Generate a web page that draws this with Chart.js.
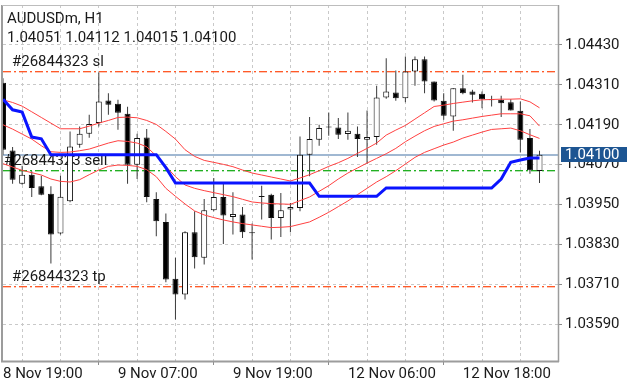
<!DOCTYPE html>
<html><head><meta charset="utf-8">
<script src="https://cdn.jsdelivr.net/npm/chart.js@4/dist/chart.umd.min.js"></script>
<style>html,body{margin:0;padding:0;background:#fff}canvas{display:block}</style>
</head><body>
<canvas id="c" width="640" height="384"></canvas>
<script>
// ---- data (AUDUSDm, H1) ----
const openP  = [1.04316,1.04113,1.04013,1.04040,1.04005,1.03983,1.03863,1.03960,1.04130,1.04163,1.04195,1.04263,1.04253,1.04223,1.04070,1.04152,1.03967,1.03898,1.03727,1.03680,1.03867,1.03790,1.03933,1.03973,1.03913,1.03920,1.03866,1.03973,1.03980,1.03910,1.03935,1.03940,1.04100,1.04145,1.04182,1.04182,1.04162,1.04163,1.04145,1.04153,1.04272,1.04287,1.04270,1.04350,1.04387,1.04320,1.04262,1.04215,1.04300,1.04290,1.04283,1.04265,1.04265,1.04258,1.04232,1.04150,1.04051];
const highP  = [1.04330,1.04123,1.04067,1.04050,1.04037,1.04005,1.04037,1.04170,1.04185,1.04220,1.04347,1.04285,1.04265,1.04244,1.04163,1.04177,1.03987,1.03923,1.03790,1.03870,1.03930,1.03967,1.04030,1.04017,1.03987,1.03943,1.03893,1.04007,1.03983,1.03985,1.03955,1.04155,1.04213,1.04190,1.04227,1.04210,1.04227,1.04185,1.04233,1.04307,1.04390,1.04353,1.04395,1.04395,1.04395,1.04320,1.04285,1.04300,1.04340,1.04295,1.04290,1.04277,1.04277,1.04267,1.04260,1.04177,1.04112];
const lowP   = [1.04100,1.04013,1.04010,1.03973,1.03978,1.03773,1.03860,1.03957,1.04121,1.04151,1.04185,1.04220,1.04175,1.04013,1.04027,1.03957,1.03855,1.03717,1.03605,1.03665,1.03758,1.03770,1.03930,1.03832,1.03860,1.03850,1.03785,1.03905,1.03845,1.03853,1.03867,1.03930,1.04035,1.04127,1.04157,1.04147,1.04145,1.04093,1.04073,1.04130,1.04268,1.04262,1.04258,1.04307,1.04285,1.04260,1.04205,1.04172,1.04282,1.04257,1.04240,1.04245,1.04213,1.04233,1.04107,1.04043,1.04015];
const closeP = [1.04115,1.04025,1.04040,1.04000,1.03980,1.03860,1.03974,1.04125,1.04163,1.04192,1.04260,1.04250,1.04226,1.04070,1.04150,1.03973,1.03900,1.03725,1.03680,1.03867,1.03792,1.03933,1.03973,1.03917,1.03922,1.03867,1.03864,1.03974,1.03910,1.03933,1.03943,1.04100,1.04147,1.04180,1.04183,1.04160,1.04172,1.04147,1.04153,1.04272,1.04290,1.04270,1.04350,1.04387,1.04320,1.04263,1.04217,1.04300,1.04285,1.04280,1.04267,1.04264,1.04255,1.04233,1.04145,1.04053,1.04100];

const bandUpper  = [1.04265,1.04257,1.04246,1.04229,1.04212,1.04195,1.04178,1.04178,1.04178,1.04186,1.04195,1.04203,1.04212,1.04213,1.04211,1.04203,1.04191,1.04170,1.04147,1.04115,1.04095,1.04083,1.04077,1.04071,1.04064,1.04054,1.04045,1.04039,1.04033,1.04027,1.04021,1.04030,1.04040,1.04052,1.04065,1.04076,1.04089,1.04104,1.04119,1.04135,1.04159,1.04174,1.04188,1.04207,1.04226,1.04245,1.04249,1.04254,1.04258,1.04262,1.04265,1.04266,1.04267,1.04267,1.04268,1.04259,1.04241];
const bandMiddle = [1.04190,1.04177,1.04162,1.04147,1.04127,1.04109,1.04107,1.04108,1.04112,1.04117,1.04126,1.04135,1.04142,1.04140,1.04135,1.04124,1.04096,1.04065,1.04034,1.04009,1.03999,1.03992,1.03986,1.03980,1.03974,1.03966,1.03958,1.03955,1.03953,1.03952,1.03951,1.03962,1.03973,1.03990,1.04007,1.04027,1.04045,1.04060,1.04075,1.04089,1.04103,1.04119,1.04139,1.04156,1.04172,1.04185,1.04193,1.04201,1.04205,1.04210,1.04215,1.04219,1.04223,1.04223,1.04223,1.04217,1.04186];
const bandLower  = [1.04073,1.04063,1.04053,1.04046,1.04039,1.04027,1.04020,1.04018,1.04025,1.04040,1.04054,1.04065,1.04069,1.04068,1.04065,1.04055,1.04034,1.03999,1.03975,1.03952,1.03931,1.03919,1.03911,1.03904,1.03898,1.03893,1.03889,1.03885,1.03881,1.03882,1.03884,1.03891,1.03898,1.03912,1.03927,1.03944,1.03961,1.03980,1.03999,1.04018,1.04034,1.04052,1.04072,1.04092,1.04107,1.04118,1.04129,1.04138,1.04150,1.04159,1.04168,1.04176,1.04178,1.04180,1.04172,1.04160,1.04149];
const blueStop   = [1.04267,1.04235,1.04228,1.04153,1.04148,1.04100,1.04100,1.04100,1.04100,1.04100,1.04100,1.04100,1.04100,1.04100,1.04100,1.04100,1.04100,1.04061,1.04015,1.04015,1.04015,1.04015,1.04015,1.04015,1.04015,1.04015,1.04015,1.04015,1.04015,1.04015,1.04015,1.04015,1.04015,1.03975,1.03975,1.03975,1.03975,1.03975,1.03975,1.03975,1.04000,1.04000,1.04000,1.04000,1.04000,1.04000,1.04000,1.04000,1.04000,1.04000,1.04000,1.04000,1.04027,1.04077,1.04084,1.04090,1.04090];

const gridIdx   = [0,4,8,12,16,20,24,28,32,36,40,44,48,52,56];
const tickIndex = [0,12,24,36,48];
const tickText  = ['8 Nov 19:00','9 Nov 07:00','9 Nov 19:00','12 Nov 06:00','12 Nov 18:00'];
const yTicks    = [1.03590,1.03710,1.03830,1.03950,1.04070,1.04190,1.04310,1.04430];

const bidPrice  = 1.04100;
const slPrice   = 1.04352;
const sellPrice = 1.04055;
const tpPrice   = 1.03706;
const orderId   = '#26844323';
const symbolTxt = 'AUDUSDm, H1';
const ohlcTxt   = '1.04051 1.04112 1.04015 1.04100';

const idx = closeP.map((_, i) => i);
const FONT = 'Roboto';

// dash-dot level line drawn as small filled rectangles (1px core + soft row)
function dashDot(ctx, a, yPix, color) {
  const py = Math.round(yPix);
  ctx.save();
  ctx.fillStyle = color;
  const pattern = [[0, 8], [11, 2]];
  for (let x0 = a.left; x0 < a.right; x0 += 16) {
    for (const [off, len] of pattern) {
      const xs = Math.round(x0 + off);
      const xe = Math.round(Math.min(x0 + off + len, a.right));
      if (xe > xs) {
        ctx.globalAlpha = 1;
        ctx.fillRect(xs, py, xe - xs, 1);
        ctx.globalAlpha = 0.35;
        ctx.fillRect(xs, py + 1, xe - xs, 1);
      }
    }
  }
  ctx.restore();
}

const overlay = {
  id: 'mtOverlay',
  beforeDatasetsDraw(chart) {
    const { ctx, chartArea: a, scales: { y } } = chart;
    ctx.save();
    ctx.fillStyle = 'rgb(160,184,210)';
    ctx.fillRect(a.left, Math.round(y.getPixelForValue(bidPrice)) - 1, a.right - a.left, 2);
    dashDot(ctx, a, y.getPixelForValue(slPrice), '#ff5a28');
    dashDot(ctx, a, y.getPixelForValue(tpPrice), '#ff5a28');
    dashDot(ctx, a, y.getPixelForValue(sellPrice), '#22b022');
    ctx.fillStyle = '#1a1a1a';
    ctx.font = '15px ' + FONT;
    ctx.textBaseline = 'alphabetic';
    ctx.textAlign = 'left';
    ctx.fillText(orderId + ' sl', 12, y.getPixelForValue(slPrice) - 4.5);
    ctx.fillText(orderId + ' sell', 4, y.getPixelForValue(sellPrice) - 4.5);
    ctx.fillText(orderId + ' tp', 12, y.getPixelForValue(tpPrice) - 4.5);
    ctx.restore();
  },
  afterDatasetsDraw(chart) {
    const { ctx, chartArea: a } = chart;
    ctx.save();
    ctx.setLineDash([]);
    ctx.strokeStyle = '#9c9c9c';
    ctx.lineWidth = 2;
    ctx.beginPath();
    ctx.moveTo(2, a.top); ctx.lineTo(2, a.bottom + 1);
    ctx.moveTo(1, a.bottom + 0.5); ctx.lineTo(a.right + 1, a.bottom + 0.5);
    ctx.stroke();
    ctx.lineWidth = 1.5;
    ctx.beginPath();
    ctx.moveTo(a.right + 0.5, a.top); ctx.lineTo(a.right + 0.5, a.bottom + 1);
    ctx.stroke();
    ctx.lineWidth = 1;
    ctx.strokeStyle = '#bdbdbd';
    ctx.beginPath();
    ctx.moveTo(2, a.top + 0.5); ctx.lineTo(a.right, a.top + 0.5);
    ctx.stroke();
    ctx.restore();
  },
  afterDraw(chart) {
    const { ctx, chartArea: a, scales: { y } } = chart;
    ctx.save();
    ctx.fillStyle = '#1a1a1a';
    ctx.textBaseline = 'alphabetic';
    ctx.textAlign = 'left';
    ctx.font = '15px ' + FONT;
    ctx.fillText(symbolTxt, 7, 23);
    ctx.fillText(ohlcTxt, 7, 42);
    const py = y.getPixelForValue(bidPrice);
    ctx.fillStyle = '#1d5592';
    ctx.fillRect(a.right + 3, Math.round(py - 7.5), 66, 15);
    ctx.fillStyle = '#ffffff';
    ctx.textBaseline = 'middle';
    ctx.fillText(bidPrice.toFixed(5), a.right + 7, py + 0.5);
    ctx.restore();
  }
};

new Chart(document.getElementById('c'), {
  type: 'bar',
  data: {
    datasets: [
      { type: 'line', data: idx.map(i => ({ x: i, y: blueStop[i] })), borderColor: '#0a14ff', borderWidth: 3, pointRadius: 0, tension: 0, order: 0 },
      { type: 'line', data: idx.map(i => ({ x: i, y: bandUpper[i] })), borderColor: '#ff4040', borderWidth: 1, pointRadius: 0, tension: 0, order: 1 },
      { type: 'line', data: idx.map(i => ({ x: i, y: bandMiddle[i] })), borderColor: '#ff4040', borderWidth: 1, pointRadius: 0, tension: 0, order: 1 },
      { type: 'line', data: idx.map(i => ({ x: i, y: bandLower[i] })), borderColor: '#ff4040', borderWidth: 1, pointRadius: 0, tension: 0, order: 1 },
      { type: 'bar', data: idx.map(i => ({ x: i, y: [Math.min(openP[i], closeP[i]), Math.max(openP[i], closeP[i])] })),
        backgroundColor: idx.map(i => closeP[i] > openP[i] ? '#ffffff' : '#000000'),
        borderColor: '#111111', borderWidth: 1, borderSkipped: false, barThickness: 6, minBarLength: 1, grouped: false, inflateAmount: 0, order: 2 },
      { type: 'bar', data: idx.map(i => ({ x: i, y: [lowP[i], highP[i]] })),
        backgroundColor: '#3a3a3a', barThickness: 1, grouped: false, inflateAmount: 0, order: 3 }
    ]
  },
  options: {
    responsive: false, animation: false, devicePixelRatio: 1,
    layout: { padding: { left: 3, top: 5, right: 0, bottom: 0 } },
    plugins: { legend: { display: false }, tooltip: { enabled: false } },
    scales: {
      x: {
        type: 'linear', min: 0, max: 57.93, offset: false,
        afterBuildTicks: s => { s.ticks = gridIdx.map(v => ({ value: v })); },
        afterFit: s => { s.height = 23; s.paddingLeft = 0; s.paddingRight = 0; },
        grid: { color: '#c9c9c9', lineWidth: 1, drawTicks: true, tickLength: 4, tickBorderDash: [],
                tickColor: c => (c.tick && tickIndex.includes(c.tick.value)) ? '#8c8c8c' : 'rgba(0,0,0,0)' },
        border: { display: false, dash: [3, 3] },
        ticks: { autoSkip: false, maxRotation: 0, minRotation: 0, align: 'start', padding: 0, color: '#1a1a1a',
                 font: { family: FONT, size: 15 },
                 callback: v => { const k = tickIndex.indexOf(v); return k >= 0 ? tickText[k] : ''; } }
      },
      y: {
        position: 'right', min: 1.03480, max: 1.04550,
        afterBuildTicks: s => { s.ticks = yTicks.map(v => ({ value: v })); },
        afterFit: s => { s.width = 82; s.paddingTop = 0; s.paddingBottom = 0; },
        grid: { color: '#c9c9c9', lineWidth: 1, drawTicks: true, tickLength: 4, tickBorderDash: [], tickColor: '#8c8c8c' },
        border: { display: false, dash: [3, 3] },
        ticks: { padding: 3, color: '#1a1a1a', font: { family: FONT, size: 15 }, callback: v => v.toFixed(5) }
      }
    }
  },
  plugins: [overlay]
});
</script>
</body></html>
